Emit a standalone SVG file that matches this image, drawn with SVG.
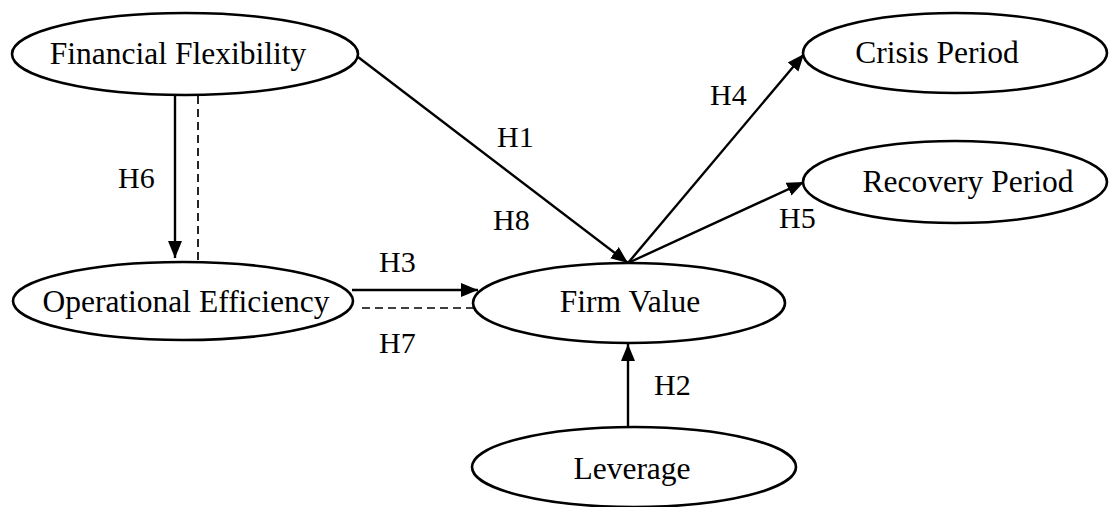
<svg xmlns="http://www.w3.org/2000/svg" width="1113" height="507" viewBox="0 0 1113 507">
<style>
.n{fill:#fff;stroke:#000;stroke-width:2.6}
.t{font-family:"Liberation Serif","Times New Roman",serif;font-size:31.5px;fill:#000;text-anchor:middle}
.l{font-family:"Liberation Serif","Times New Roman",serif;font-size:30px;fill:#000}
.c{stroke:#000;stroke-width:2.4;fill:none}
.d{stroke:#000;stroke-width:1.7;fill:none;stroke-dasharray:8,5}
</style>
<defs>
<marker id="ah" markerUnits="userSpaceOnUse" markerWidth="18" markerHeight="16" refX="17" refY="8" orient="auto">
<path d="M0,1 L17,8 L0,15 z" fill="#000"/>
</marker>
</defs>
<rect width="1113" height="507" fill="#fff"/>
<g id="connectors">
<line class="c" x1="175" y1="96" x2="175" y2="258" marker-end="url(#ah)"/>
<line class="d" x1="198" y1="96" x2="198" y2="262"/>
<line class="c" x1="358" y1="57" x2="628" y2="263" marker-end="url(#ah)"/>
<line class="c" x1="628" y1="263" x2="804" y2="54" marker-end="url(#ah)"/>
<line class="c" x1="628" y1="263" x2="804" y2="182" marker-end="url(#ah)"/>
<line class="c" x1="352" y1="290" x2="478" y2="290" marker-end="url(#ah)"/>
<line class="d" x1="362" y1="308" x2="474" y2="308"/>
<line class="c" x1="628" y1="427" x2="628" y2="344" marker-end="url(#ah)"/>
<text class="l" x="118" y="188">H6</text>
<text class="l" x="497" y="147">H1</text>
<text class="l" x="493" y="230">H8</text>
<text class="l" x="379" y="272">H3</text>
<text class="l" x="379" y="353">H7</text>
<text class="l" x="654" y="395">H2</text>
<text class="l" x="710" y="105">H4</text>
<text class="l" x="779" y="228">H5</text>
</g>
<g id="financial-flexibility">
<ellipse class="n" cx="185" cy="54" rx="173" ry="41"/>
<text class="t" x="178" y="64">Financial Flexibility</text>
</g>
<g id="operational-efficiency">
<ellipse class="n" cx="183" cy="301" rx="170" ry="39"/>
<text class="t" x="186" y="312">Operational Efficiency</text>
</g>
<g id="firm-value">
<ellipse class="n" cx="629" cy="303" rx="156" ry="40"/>
<text class="t" x="630" y="312">Firm Value</text>
</g>
<g id="leverage">
<ellipse class="n" cx="634" cy="467" rx="162" ry="40"/>
<text class="t" x="632" y="479">Leverage</text>
</g>
<g id="crisis-period">
<ellipse class="n" cx="955" cy="53" rx="152" ry="40"/>
<text class="t" x="937" y="63">Crisis Period</text>
</g>
<g id="recovery-period">
<ellipse class="n" cx="955" cy="182" rx="152" ry="41"/>
<text class="t" x="968" y="192">Recovery Period</text>
</g>
</svg>
